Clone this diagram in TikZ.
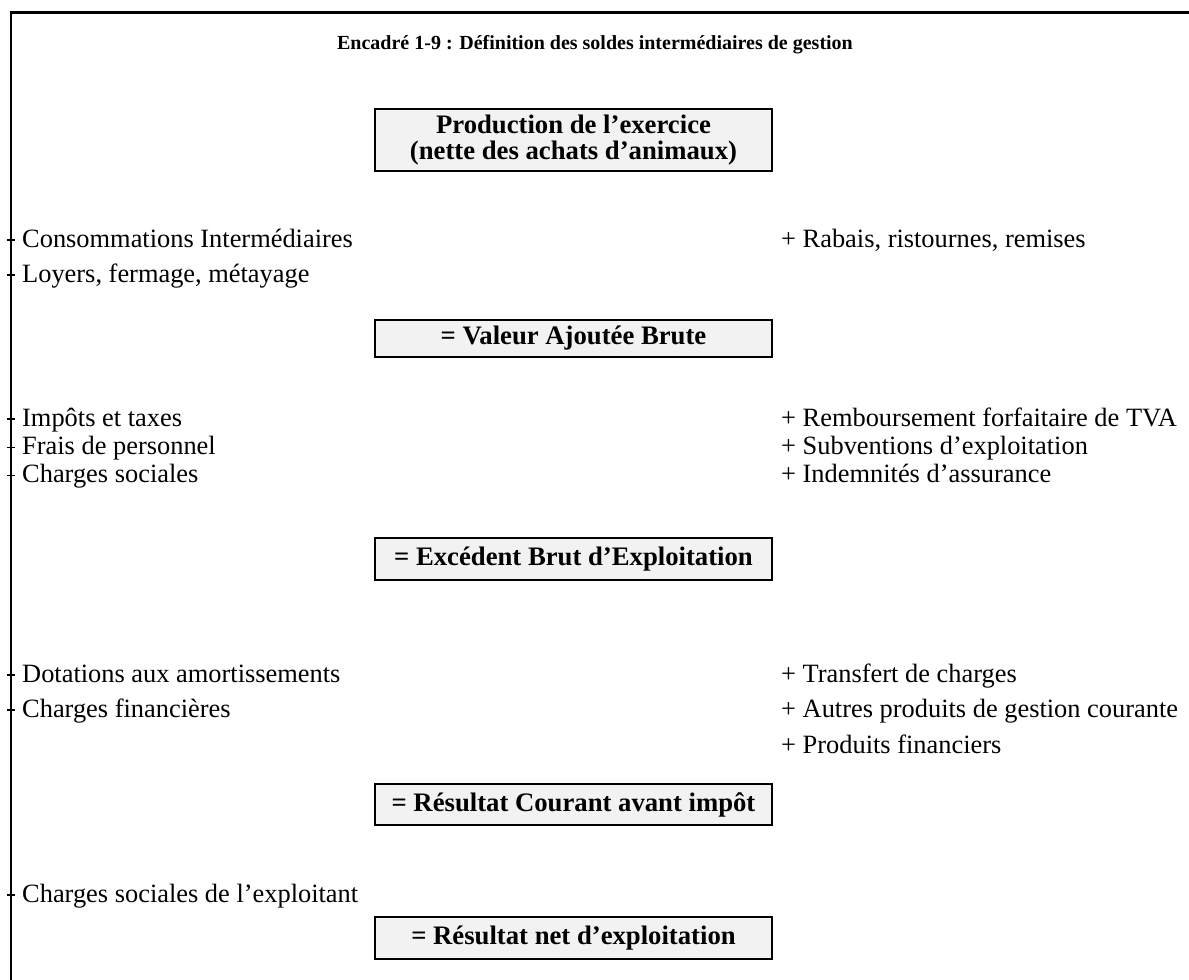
\documentclass[tikz,border=0pt]{standalone}
\usepackage{fontspec}
\setmainfont{Liberation Serif}
\tikzset{
  txt/.style={inner sep=0pt, anchor=base west, font=\fontsize{26.4}{30}\selectfont},
  sbox/.style={draw, line width=2pt, fill=black!5, minimum width=397pt, inner sep=0pt, align=center, font=\fontsize{26.7}{25.5}\selectfont\bfseries},
  tick/.style={line width=1.2pt},
  frame/.style={line width=2.5pt}
}
\begin{document}
\begin{tikzpicture}[x=1pt,y=-1pt]
\useasboundingbox (0,0) rectangle (1189,980);
\coordinate (ftr) at (1189,12.5);
\coordinate (ftl) at (11,12.5);
\coordinate (fbl) at (11,980);
\draw[frame] (ftr) -- (ftl) -- (fbl);

\node[inner sep=0pt, font=\fontsize{20}{24}\selectfont\bfseries] (title) at (595,45) {Encadré 1-9 : Définition des soldes intermédiaires de gestion};

\node[sbox, minimum height=62pt] (prod) at (573.5,140) {Production de l’exercice\\(nette des achats d’animaux)};
\node[sbox, minimum height=37pt] (vab) at (573.5,338.5) {= Valeur Ajoutée Brute};
\node[sbox, minimum height=42pt] (ebe) at (573.5,559) {= Excédent Brut d’Exploitation};
\node[sbox, minimum height=41pt] (rcai) at (573.5,804.5) {= Résultat Courant avant impôt};
\node[sbox, minimum height=42pt] (rne) at (573.5,938) {= Résultat net d’exploitation};

% left items
\node[txt] (l1) at (22,247) {Consommations Intermédiaires};
\node[txt] (l2) at (22,282) {Loyers, fermage, métayage};
\node[txt] (l3) at (22,426) {Impôts et taxes};
\node[txt] (l4) at (22,454.3) {Frais de personnel};
\node[txt] (l5) at (22,482.7) {Charges sociales};
\node[txt] (l6) at (22,682) {Dotations aux amortissements};
\node[txt] (l7) at (22,717) {Charges financières};
\node[txt] (l8) at (22,902) {Charges sociales de l’exploitant};
\foreach \n in {l1,l2,l3,l4,l5,l6,l7,l8}{
  \draw[tick] ([shift={(-15pt,7pt)}]\n.base west) -- ([shift={(-7pt,7pt)}]\n.base west);
}

% right items
\node[txt] (r1) at (781,247) {+ Rabais, ristournes, remises};
\node[txt] (r2) at (781,426) {+ Remboursement forfaitaire de TVA};
\node[txt] (r3) at (781,454.3) {+ Subventions d’exploitation};
\node[txt] (r4) at (781,482.7) {+ Indemnités d’assurance};
\node[txt] (r5) at (781,682) {+ Transfert de charges};
\node[txt] (r6) at (781,717) {+ Autres produits de gestion courante};
\node[txt] (r7) at (781,753) {+ Produits financiers};
\end{tikzpicture}
\end{document}
